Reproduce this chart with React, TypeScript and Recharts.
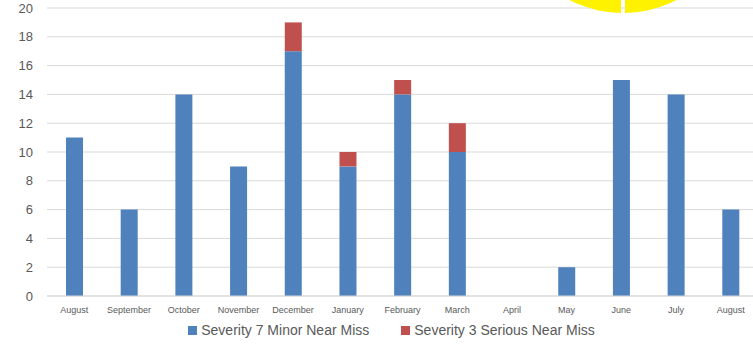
import React from "react";
import { BarChart, Bar, XAxis, YAxis, CartesianGrid, Legend } from "recharts";

const months = [
  "August", "September", "October", "November", "December", "January",
  "February", "March", "April", "May", "June", "July", "August",
];
const minorNearMiss = [11, 6, 14, 9, 17, 9, 14, 10, 0, 2, 15, 14, 6];
const seriousNearMiss = [0, 0, 0, 0, 2, 1, 1, 2, 0, 0, 0, 0, 0];
const yTicks = [0, 2, 4, 6, 8, 10, 12, 14, 16, 18, 20];

const seriesInfo = [
  { key: "minor", name: "Severity 7 Minor Near Miss", color: "#4F81BD" },
  { key: "serious", name: "Severity 3 Serious Near Miss", color: "#C0504D" },
];

const data = months.map((m, i) => ({
  month: m,
  minor: minorNearMiss[i],
  serious: seriousNearMiss[i],
}));

const FONT = "'Liberation Sans', Arial, sans-serif";
const TEXT = "#595959";

// Partial yellow disc peeking in at the top edge
function SunBadge() {
  const cx = 623;
  const cy = -104;
  const r = 117;
  const gap = 2;
  const left = `M ${cx - gap} ${cy} L ${cx - gap} ${cy + r} A ${r} ${r} 0 0 1 ${cx - r} ${cy} Z`;
  const right = `M ${cx + gap} ${cy} L ${cx + gap} ${cy + r} A ${r} ${r} 0 0 0 ${cx + r} ${cy} Z`;
  return (
    <svg width={753} height={40} style={{ position: "absolute", left: 0, top: 0 }}>
      <path d={left} fill="#FFF200" />
      <path d={right} fill="#FFF200" />
    </svg>
  );
}

function LegendContent() {
  return (
    <div
      style={{
        display: "flex",
        justifyContent: "center",
        gap: 32,
        fontFamily: FONT,
        fontSize: 14,
        color: TEXT,
        paddingLeft: 25,
      }}
    >
      {seriesInfo.map((s) => (
        <div key={s.key} style={{ display: "flex", alignItems: "center" }}>
          <span
            style={{
              display: "inline-block",
              width: 9,
              height: 9,
              background: s.color,
              marginRight: 4,
            }}
          />
          <span>{s.name}</span>
        </div>
      ))}
    </div>
  );
}

export default function App() {
  return (
    <div
      style={{
        position: "fixed",
        left: 0,
        top: 0,
        width: 753,
        height: 351,
        overflow: "hidden",
        background: "#fff",
      }}
    >
      <BarChart
        width={758}
        height={351}
        data={data}
        margin={{ top: 8, right: 0, left: 0, bottom: 0 }}
        barSize={17}
      >
        <CartesianGrid vertical={false} stroke="#D9D9D9" strokeWidth={1} />
        <XAxis
          dataKey="month"
          axisLine={{ stroke: "#D9D9D9" }}
          tickLine={false}
          interval={0}
          height={26}
          tickMargin={5}
          tick={{ fontSize: 9, fill: TEXT, fontFamily: FONT }}
        />
        <YAxis
          width={47}
          domain={[0, 20]}
          ticks={yTicks}
          axisLine={false}
          tickLine={false}
          tickSize={0}
          tickMargin={14}
          tick={{ fontSize: 13, fill: TEXT, fontFamily: FONT }}
        />
        <Legend verticalAlign="bottom" height={29} content={<LegendContent />} />
        <Bar
          dataKey="minor"
          name={seriesInfo[0].name}
          stackId="a"
          fill={seriesInfo[0].color}
          isAnimationActive={false}
        />
        <Bar
          dataKey="serious"
          name={seriesInfo[1].name}
          stackId="a"
          fill={seriesInfo[1].color}
          isAnimationActive={false}
        />
      </BarChart>
      <SunBadge />
    </div>
  );
}
